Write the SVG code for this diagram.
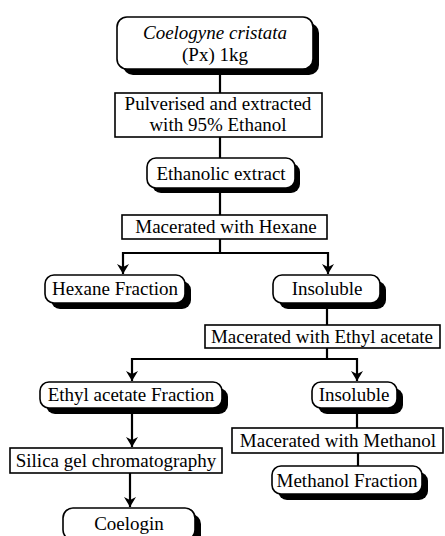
<svg xmlns="http://www.w3.org/2000/svg" width="445" height="536" viewBox="0 0 445 536">
<defs>
<style>
text{font-family:"Liberation Serif","Times New Roman",serif;font-size:19px;fill:#000;text-anchor:middle}
.it{font-style:italic}
.box{fill:#fff;stroke:#000;stroke-width:1.6}
.sh{fill:#000}
.ln{stroke:#000;stroke-width:2.2;fill:none}
</style>
<marker id="ah" viewBox="0 0 10 16" refX="10" refY="8" markerWidth="10" markerHeight="16" markerUnits="userSpaceOnUse" orient="auto">
<path d="M0,2 L10,8 L0,14 L3,8 Z" fill="#000"/>
</marker>
</defs>
<rect width="445" height="536" fill="#fff"/>
<g id="connectors">
<line class="ln" x1="220" y1="70" x2="220" y2="93"/>
<line class="ln" x1="220" y1="137" x2="220" y2="158"/>
<line class="ln" x1="220" y1="190" x2="220" y2="215"/>
<polyline class="ln" points="220,239 220,253"/>
<polyline class="ln" points="123,253 328,253"/>
<line class="ln" x1="123" y1="252" x2="123" y2="274" marker-end="url(#ah)"/>
<line class="ln" x1="328" y1="252" x2="328" y2="274" marker-end="url(#ah)"/>
<line class="ln" x1="327" y1="303" x2="327" y2="325"/>
<line class="ln" x1="327" y1="348" x2="327" y2="359"/>
<polyline class="ln" points="132,359 357,359"/>
<line class="ln" x1="132" y1="358" x2="132" y2="381" marker-end="url(#ah)"/>
<line class="ln" x1="357" y1="358" x2="357" y2="381" marker-end="url(#ah)"/>
<line class="ln" x1="132" y1="410" x2="132" y2="447" marker-end="url(#ah)"/>
<line class="ln" x1="357" y1="408" x2="357" y2="428"/>
<line class="ln" x1="358" y1="453" x2="358" y2="467"/>
<line class="ln" x1="130" y1="473" x2="130" y2="507" marker-end="url(#ah)"/>
</g>
<g id="n1">
<rect class="sh" x="123" y="23" width="196" height="52" rx="10"/>
<rect class="box" x="117" y="17" width="196" height="52" rx="10"/>
<text class="it" x="215" y="39">Coelogyne cristata</text>
<text x="215" y="61">(Px) 1kg</text>
</g>
<g id="n2">
<rect class="box" x="115" y="93" width="207" height="44"/>
<text x="218" y="110">Pulverised and extracted</text>
<text x="218" y="131">with 95% Ethanol</text>
</g>
<g id="n3">
<rect class="sh" x="152" y="163" width="148" height="30" rx="9"/>
<rect class="box" x="147" y="158" width="148" height="30" rx="9"/>
<text x="221" y="180">Ethanolic extract</text>
</g>
<g id="n4">
<rect class="box" x="122" y="215" width="205" height="24"/>
<text x="226" y="233">Macerated with Hexane</text>
</g>
<g id="n5">
<rect class="sh" x="51" y="281" width="140" height="28" rx="9"/>
<rect class="box" x="45" y="275" width="140" height="28" rx="9"/>
<text x="115" y="295">Hexane Fraction</text>
</g>
<g id="n6">
<rect class="sh" x="279" y="281" width="107" height="28" rx="9"/>
<rect class="box" x="273" y="275" width="107" height="28" rx="9"/>
<text x="327" y="295">Insoluble</text>
</g>
<g id="n7">
<rect class="box" x="205" y="325" width="235" height="23"/>
<text x="322" y="343">Macerated with Ethyl acetate</text>
</g>
<g id="n8">
<rect class="sh" x="46" y="388" width="182" height="26" rx="9"/>
<rect class="box" x="40" y="382" width="182" height="26" rx="9"/>
<text x="131" y="401">Ethyl acetate Fraction</text>
</g>
<g id="n9">
<rect class="sh" x="318" y="388" width="85" height="26" rx="9"/>
<rect class="box" x="312" y="382" width="85" height="26" rx="9"/>
<text x="354" y="401">Insoluble</text>
</g>
<g id="n10">
<rect class="box" x="10" y="448" width="212" height="25"/>
<text x="116" y="467">Silica gel chromatography</text>
</g>
<g id="n11">
<rect class="box" x="232" y="428" width="211" height="25"/>
<text x="338" y="447">Macerated with Methanol</text>
</g>
<g id="n12">
<rect class="sh" x="278" y="472" width="150" height="28" rx="9"/>
<rect class="box" x="272" y="466" width="150" height="28" rx="9"/>
<text x="347" y="487">Methanol Fraction</text>
</g>
<g id="n13">
<rect class="sh" x="69" y="514" width="132" height="32" rx="10"/>
<rect class="box" x="63" y="508" width="132" height="32" rx="10"/>
<text x="129" y="530">Coelogin</text>
</g>
</svg>
